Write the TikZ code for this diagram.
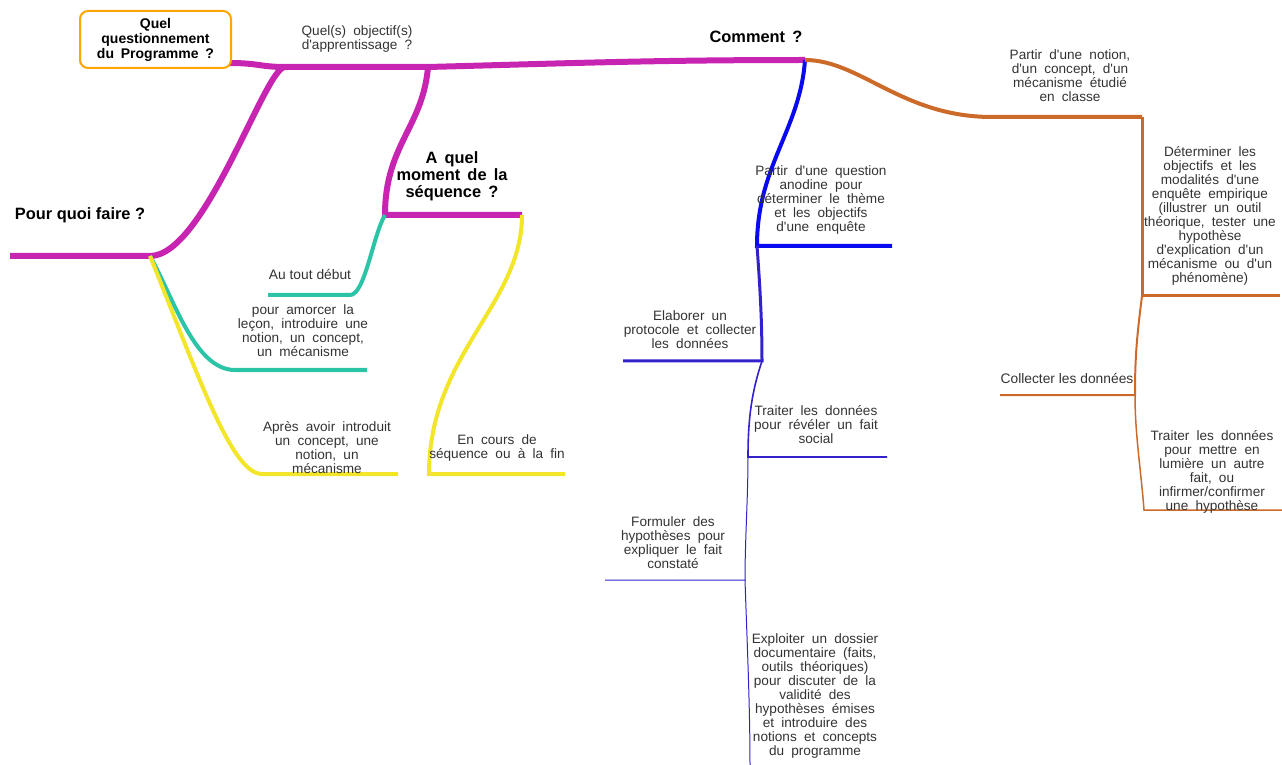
\documentclass[tikz,border=0pt]{standalone}
\usepackage{fontspec}
\setmainfont{Liberation Sans}[Ligatures=TeXOff]
\definecolor{mapmagenta}{HTML}{C724B1}
\definecolor{mapteal}{HTML}{2BC4A6}
\definecolor{mapyellow}{HTML}{F2E52A}
\definecolor{mapblue}{HTML}{0A0AF0}
\definecolor{mapdarkblue}{HTML}{3322CC}
\definecolor{maporange}{HTML}{CC6A2A}
\definecolor{boxorange}{HTML}{FFA500}
\definecolor{textgray}{HTML}{333333}
\newcommand{\widespaces}[1]{\spaceskip=#1 plus 1pt minus 0.5pt\relax}
\tikzset{
% Branch strokes of the mind map, thinner as they go deeper
magenta branch/.style={draw=mapmagenta,line width=3pt},
teal branch/.style={draw=mapteal,line width=2pt},
yellow branch/.style={draw=mapyellow,line width=2pt},
blue branch/.style={draw=mapblue,line width=2pt},
darkblue branch/.style={draw=mapdarkblue,line width=1.5pt},
darkblue thin/.style={draw=mapdarkblue,line width=0.8pt},
darkblue thinner/.style={draw=mapdarkblue,line width=0.5pt},
orange branch/.style={draw=maporange,line width=2pt},
orange mid/.style={draw=maporange,line width=1.5pt},
orange thin/.style={draw=maporange,line width=1pt},
orange thinner/.style={draw=maporange,line width=0.75pt},
% Text styles: central box, bold titles, small grey labels
root box/.style={draw=boxorange,line width=1pt,rounded corners=4pt,fill=white,
  minimum width=75.5pt,minimum height=28.5pt,inner sep=0,align=center,
  font=\bfseries\fontsize{7}{7.5}\selectfont\widespaces{3.4pt}},
title label/.style={align=center,inner sep=0,
  font=\bfseries\fontsize{8.2}{8.5}\selectfont\widespaces{3.6pt}},
small label/.style={align=center,inner sep=0,text=textgray,
  font=\fontsize{6.8}{7}\selectfont\widespaces{3.6pt}},
plain label/.style={small label,font=\fontsize{6.9}{7}\selectfont}
}
\begin{document}
\begin{tikzpicture}[x=0.5pt,y=-0.5pt]
\useasboundingbox (0,0) rectangle (1282,765);
% Junctions of the branches
\coordinate (rootout) at (229,63);
\coordinate (pq0) at (10,256);
\coordinate (pqj) at (150,256);
\coordinate (objl) at (285,67);
\coordinate (objr) at (428,67);
\coordinate (momj) at (385,215);
\coordinate (momr) at (522,215);
\coordinate (comj) at (805,60);
\coordinate (debj) at (350,295);
\coordinate (debl) at (268,295);
\coordinate (amoj) at (235,370);
\coordinate (amor) at (367,370);
\coordinate (apj) at (262,474);
\coordinate (apr) at (398,474);
\coordinate (encj) at (429,474);
\coordinate (encr) at (565,474);
\coordinate (anoj) at (757,246);
\coordinate (anor) at (892,246);
\coordinate (proj) at (762,361);
\coordinate (prol) at (623,361);
\coordinate (trfj) at (748,457);
\coordinate (trfr) at (887,457);
\coordinate (hypj) at (745,580);
\coordinate (hypl) at (605,580);
\coordinate (dosj) at (750,765);
\coordinate (notj) at (992,117);
\coordinate (notr) at (1142,117);
\coordinate (enqj) at (1142,296);
\coordinate (enqr) at (1280,296);
\coordinate (colj) at (1135,395);
\coordinate (coll) at (1000,395);
\coordinate (traj) at (1144,510);
\coordinate (trar) at (1282,510);
% Magenta trunk
\draw[magenta branch] (rootout) .. controls +(30,0) and +(-25,0) .. (objl) -- (objr) .. controls +(150,-4) and +(-150,0) .. (comj);
\draw[magenta branch] (pq0) -- (pqj) .. controls +(55,0) and +(-20,0) .. (objl);
\draw[magenta branch] (objr) .. controls +(-5,60) and +(0,-70) .. (momj) -- (momr);
% Quand ?
\draw[teal branch] (momj) .. controls +(-12,20) and +(15,0) .. (debj) -- (debl);
\draw[teal branch] (pqj) .. controls +(25,45) and +(-40,0) .. (amoj) -- (amor);
\draw[yellow branch] (pqj) .. controls +(50,124) and +(-30,0) .. (apj) -- (apr);
\draw[yellow branch] (momr) .. controls +(0,90) and +(0,-120) .. (encj) -- (encr);
% Comment ? (blue side)
\draw[blue branch] (comj) .. controls +(-5,70) and +(0,-80) .. (anoj) -- (anor);
\draw[darkblue branch] (anoj) .. controls +(3,40) and +(0,-40) .. (proj) -- (prol);
\draw[darkblue thin] (proj) .. controls +(-10,30) and +(0,-40) .. (trfj) -- (trfr);
\draw[darkblue thinner] (trfj) .. controls +(0,40) and +(0,-40) .. (hypj) -- (hypl);
\draw[darkblue thinner] (hypj) .. controls +(2,60) and +(0,-60) .. (dosj);
% Comment ? (orange side)
\draw[orange branch] (comj) .. controls +(55,0) and +(-90,0) .. (notj) -- (notr);
\draw[orange mid] (notr) -- (enqj) -- (enqr);
\draw[orange thin] (enqj) .. controls +(-5,40) and +(0,-40) .. (colj) -- (coll);
\draw[orange thinner] (colj) .. controls +(0,40) and +(-3,-40) .. (traj) -- (trar);
% Texts
\node[root box] (root) at (155.5,39.5) {Quel\\questionnement\\du Programme ?};
\node[title label,font=\bfseries\fontsize{8.2}{8.5}\selectfont] (pourquoi) at (80,215) {Pour quoi faire ?};
\node[title label] (moment) at (452,176) {A quel\\moment de la\\séquence ?};
\node[title label] (comment) at (756,37) {Comment ?};
\node[small label] (objectifs) at (357,39) {Quel(s) objectif(s)\\d'apprentissage ?};
\node[plain label] (debut) at (310,274) {Au tout début};
\node[small label] (amorcer) at (303,331) {pour amorcer la\\leçon, introduire une\\notion, un concept,\\un mécanisme};
\node[small label] (apres) at (327,448) {Après avoir introduit\\un concept, une\\notion, un\\mécanisme};
\node[small label] (encours) at (497,448) {En cours de\\séquence ou à la fin};
\node[small label] (anodine) at (821,200) {Partir d'une question\\anodine pour\\déterminer le thème\\et les objectifs\\d'une enquête};
\node[small label] (protocole) at (690,330) {Elaborer un\\protocole et collecter\\les données};
\node[small label] (traiterfait) at (816,425) {Traiter les données\\pour révéler un fait\\social};
\node[small label] (hypotheses) at (673,543) {Formuler des\\hypothèses pour\\expliquer le fait\\constaté};
\node[small label] (dossier) at (815,696) {Exploiter un dossier\\documentaire (faits,\\outils théoriques)\\pour discuter de la\\validité des\\hypothèses émises\\et introduire des\\notions et concepts\\du programme};
\node[small label] (notion) at (1070,76) {Partir d'une notion,\\d'un concept, d'un\\mécanisme étudié\\en classe};
\node[small label] (enquete) at (1210,216) {Déterminer les\\objectifs et les\\modalités d'une\\enquête empirique\\(illustrer un outil\\théorique, tester une\\hypothèse\\d'explication d'un\\mécanisme ou d'un\\phénomène)};
\node[plain label] (collecter) at (1067,378) {Collecter les données};
\node[small label] (traiterautre) at (1212,472) {Traiter les données\\pour mettre en\\lumière un autre\\fait, ou\\infirmer/confirmer\\une hypothèse};
\end{tikzpicture}
\end{document}
